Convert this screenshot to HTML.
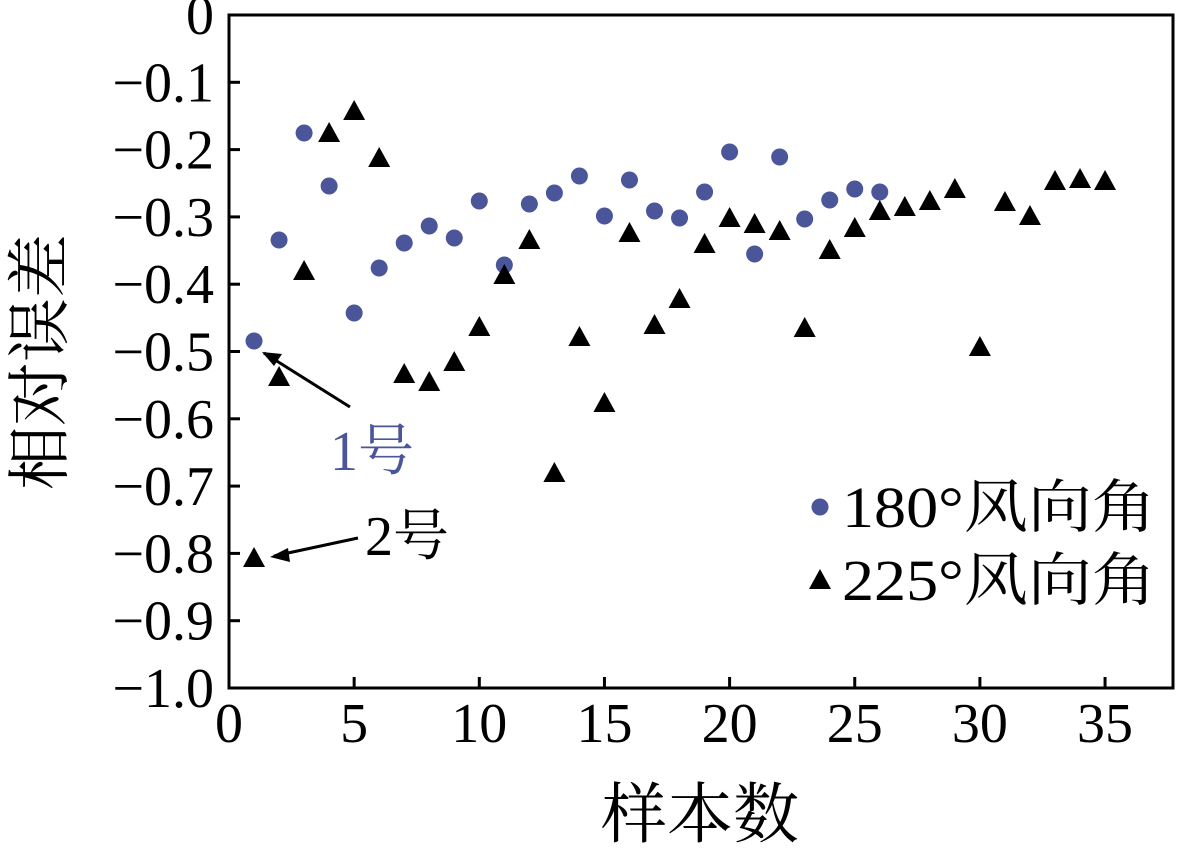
<!DOCTYPE html>
<html><head><meta charset="utf-8"><style>
html,body{margin:0;padding:0;background:#fff;}
svg{display:block;}
text{font-family:"Liberation Serif","Noto Serif CJK SC",serif;}
</style></head><body>
<svg width="1180" height="849" viewBox="0 0 1180 849" xmlns="http://www.w3.org/2000/svg">
<rect x="229" y="15" width="944" height="673" fill="none" stroke="#000" stroke-width="3"/>
<g stroke="#000" stroke-width="3" id="ticks"></g>
<g font-size="56" text-anchor="end" id="yl"></g>
<g font-size="56" text-anchor="middle" id="xl"></g>
<text x="700" y="837" font-size="66" text-anchor="middle">样本数</text>
<text transform="translate(62,362) rotate(-90)" font-size="64" text-anchor="middle">相对误差</text>
<g id="pts"></g>
<circle cx="820" cy="507" r="8.5" fill="#4a559a"/>
<text x="842" y="527" font-size="58" textLength="314" lengthAdjust="spacingAndGlyphs">180°风向角</text>
<polygon points="820,569 831,589 809,589" fill="#000"/>
<text x="842" y="600" font-size="58" textLength="314" lengthAdjust="spacingAndGlyphs">225°风向角</text>
<line x1="350" y1="407" x2="264" y2="353" stroke="#000" stroke-width="3"/>
<polygon points="262,352 282,354 274,366" fill="#000"/>
<text x="330" y="470" font-size="56" fill="#4a559a">1号</text>
<line x1="358" y1="538" x2="274" y2="556" stroke="#000" stroke-width="3"/>
<polygon points="270,557 288,548 290,562" fill="#000"/>
<text x="365" y="555" font-size="56">2号</text>
<script>
var ns="http://www.w3.org/2000/svg";
function el(t,a,p,txt){var e=document.createElementNS(ns,t);for(var k in a)e.setAttribute(k,a[k]);if(txt)e.textContent=txt;document.getElementById(p).appendChild(e);}
for(var i=0;i<=10;i++){var y=15+i*67.3;
 el('line',{x1:229,y1:y,x2:240,y2:y},'ticks');
 el('text',{x:214,y:y+19},'yl',i==0?'0':(i==10?'\u22121.0':'\u22120.'+i));}
for(var i=0;i<=35;i+=5){var x=229+i*25.03;
 el('line',{x1:x,y1:688,x2:x,y2:677},'ticks');
 el('text',{x:x,y:742},'xl',''+i);}
var c=[341,240,133,186,313,268,243,226,238,201,265,204,193,176,216,180,211,218,192,152,254,157,219,200,189,192];
c.forEach(function(y,i){el('circle',{cx:229+(i+1)*25.03,cy:y,r:8.5,fill:'#4a559a'},'pts');});
var t=[558,377,271,133,111,158,374,382,362,327,275,240,473,337,403,233,325,299,244,218,224,231,328,250,228,211,207,201,189,347,202,216,181,179,181];
t.forEach(function(y,i){var x=229+(i+1)*25.03;el('polygon',{points:x+','+(y-11)+' '+(x+11)+','+(y+9)+' '+(x-11)+','+(y+9),fill:'#000'},'pts');});
</script>
</svg>
</body></html>
